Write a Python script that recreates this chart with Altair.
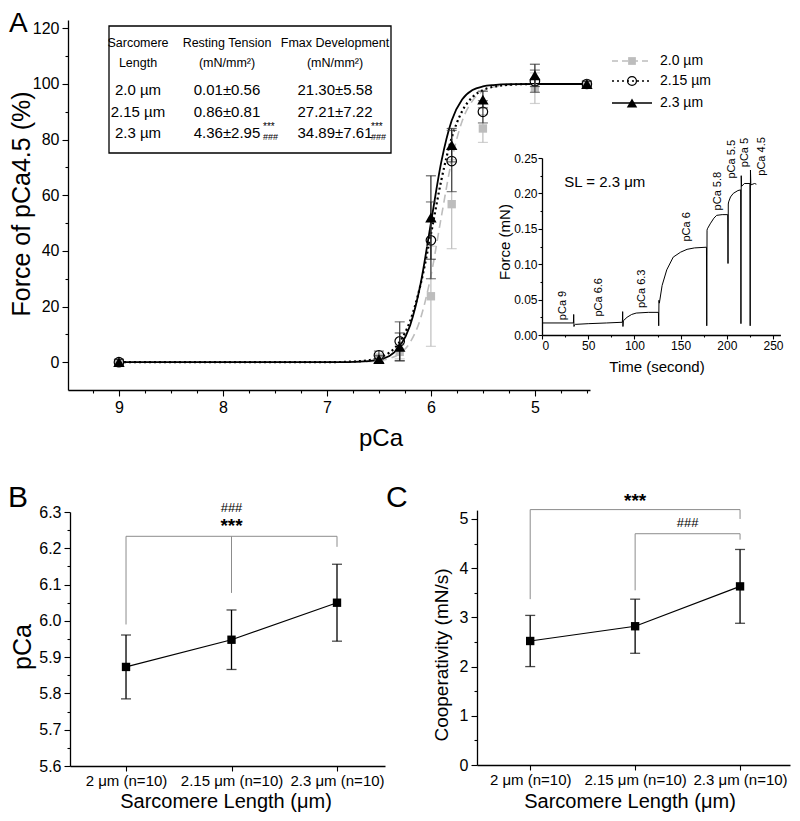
import json
import altair as alt
import pandas as pd

FONT = "Liberation Sans"
W, H = 784, 805
GRAY = "#bdbdbd"
BRK = "#8c8c8c"

# ---------------- Panel A data ----------------
pca_points = [9.0, 6.5, 6.3, 6.0, 5.8, 5.5, 5.0, 4.5]
force_20 = [0.0, 1.5, 3.7, 23.7, 56.8, 84.0, 98.5, 100.0]
sem_20 = [1.0, 1.5, 2.5, 18.0, 16.0, 5.0, 5.5, 1.0]
force_215 = [0.0, 2.5, 7.5, 43.8, 72.3, 90.0, 101.0, 100.0]
sem_215 = [1.0, 1.5, 7.0, 13.8, 11.0, 4.0, 4.0, 1.0]
force_23 = [0.0, 1.1, 5.5, 52.0, 78.0, 94.4, 103.1, 100.0]
sem_23 = [1.0, 1.2, 5.0, 15.0, 6.0, 3.0, 4.0, 1.0]
series_names = ["2.0 µm", "2.15 µm", "2.3 µm"]

fit_pca = [9.0, 7.0, 6.8, 6.6, 6.5, 6.4, 6.3, 6.2, 6.1, 6.0, 5.9, 5.8, 5.7, 5.6, 5.5, 5.4, 5.2, 5.0, 4.8, 4.5]
fit_20 = [0, 0, 0.04, 0.22, 0.53, 1.3, 3.1, 7.1, 15.7, 31.0, 52.2, 72.6, 86.6, 94.0, 97.4, 98.9, 99.8, 100, 100, 100]
fit_215 = [0, 0.01, 0.15, 0.72, 1.6, 3.4, 7.3, 14.8, 27.8, 46.0, 65.4, 80.7, 90.2, 95.3, 97.8, 99.0, 99.8, 100, 100, 100]
fit_23 = [0, 0, 0.05, 0.35, 0.88, 2.2, 5.6, 13.2, 28.0, 50.0, 72.0, 86.9, 94.4, 97.8, 99.1, 99.6, 99.95, 100, 100, 100]

# inset: force trace at SL = 2.3 um
trace_time = [0, 34, 34.3, 34.6, 35, 36, 50, 70, 87, 87.3, 87.6, 88, 92, 97, 102, 115, 126, 126.3, 126.6, 127,
              130, 135, 142, 150, 157, 165, 178, 178.3, 178.6, 179, 182, 186, 189, 195, 201, 201.3, 201.6, 202,
              204, 207, 212, 215, 215.3, 215.6, 216, 219, 225, 225.3, 225.6, 226, 230, 232]
trace_force = [0.017, 0.017, 0.029, 0.012, 0.014, 0.015, 0.016, 0.017, 0.018, 0.033, 0.012, 0.020, 0.025, 0.029,
               0.031, 0.032, 0.032, 0.013, 0.049, 0.045, 0.070, 0.092, 0.110, 0.117, 0.121, 0.123, 0.124, 0.013,
               0.148, 0.150, 0.157, 0.165, 0.169, 0.170, 0.170, 0.101, 0.185, 0.188, 0.195, 0.200, 0.204, 0.205,
               0.016, 0.225, 0.210, 0.214, 0.214, 0.013, 0.233, 0.212, 0.214, 0.213]
step_labels = ["pCa 9", "pCa 6.6", "pCa 6.3", "pCa 6", "pCa 5.8", "pCa 5.5", "pCa 5", "pCa 4.5"]
step_label_time = [23, 62, 108.6, 156.5, 190, 206, 219.4, 238]
step_label_force = [0.021, 0.026, 0.038, 0.132, 0.176, 0.221, 0.237, 0.225]

# table
tab_head1 = ["Sarcomere", "Resting Tension", "Fmax Development"]
tab_head2 = ["Length", "(mN/mm²)", "(mN/mm²)"]
tab_sl = ["2.0 µm", "2.15 µm", "2.3 µm"]
tab_rest = ["0.01±0.56", "0.86±0.81", "4.36±2.95"]
tab_fmax = ["21.30±5.58", "27.21±7.22", "34.89±7.61"]

# ---------------- Panels B and C ----------------
sl_categories = ["2 μm (n=10)", "2.15 μm (n=10)", "2.3 μm (n=10)"]
pca50_mean = [5.873, 5.948, 6.050]
pca50_sd = [0.088, 0.082, 0.106]
coop_mean = [2.52, 2.82, 3.63]
coop_sd = [0.52, 0.55, 0.75]
brB_top = 6.233
brB_feet = [5.99, 6.077, 6.204]
brC1_top, brC1_feet = 5.19, [3.37, 5.0]
brC2_top, brC2_feet = 4.70, [3.55, 4.58]


def lin(domain, rng):
    return alt.Scale(domain=domain, range=rng, nice=False, zero=False)


def cond_tick(test, minor, major):
    return {"condition": {"test": test, "value": minor}, "value": major}


def txt(text, x, y, size, angle=0, align="center", baseline="middle", weight="normal", color="black"):
    return alt.Chart(pd.DataFrame({"t": [text]})).mark_text(
        fontSize=size, angle=angle, align=align, baseline=baseline, fontWeight=weight,
        color=color, font=FONT).encode(x=alt.value(x), y=alt.value(y), text="t:N")


# ================= Panel A =================
xA_s = lin([9.49, 4.47], [60, 582])
yA_s = lin([-10, 123], [382, 12])
xA_vals = [9.25, 9.0, 8.75, 8.5, 8.25, 8.0, 7.75, 7.5, 7.25, 7.0, 6.75, 6.5, 6.25, 6.0, 5.75, 5.5, 5.25, 5.0, 4.75, 4.5]
axA_x = alt.Axis(orient="bottom", offset=382 - H, title=None, values=xA_vals,
                 labelExpr="datum.value % 1 === 0 ? format(datum.value, 'd') : ''",
                 tickSize=cond_tick("datum.value % 1 !== 0", 3, 6), labelFontSize=16, labelPadding=3)
axA_y = alt.Axis(orient="left", offset=-60, title=None, values=list(range(0, 121, 10)),
                 labelExpr="datum.value % 20 === 0 ? datum.label : ''",
                 tickSize=cond_tick("datum.value % 20 !== 0", 3, 6), labelFontSize=16, labelPadding=3)


def XA(f):
    return alt.X(f, type="quantitative", scale=xA_s, axis=axA_x)


def YA(f):
    return alt.Y(f, type="quantitative", scale=yA_s, axis=axA_y)


fit_df = pd.DataFrame({"pca": fit_pca, "f20": fit_20, "f215": fit_215, "f23": fit_23})
fitbase = alt.Chart(fit_df)
line20 = fitbase.mark_line(color=GRAY, strokeDash=[8, 5], strokeWidth=1.6, interpolate="monotone").encode(
    x=XA("pca"), y=YA("f20"))
line215 = fitbase.mark_line(color="black", strokeDash=[2, 3], strokeWidth=2.2, interpolate="monotone").encode(
    x=XA("pca"), y=YA("f215"))
line23 = fitbase.mark_line(color="black", strokeWidth=1.8, interpolate="monotone").encode(
    x=XA("pca"), y=YA("f23"))


def series_layers(force, sem, color, cap_color, shape, filled, size):
    df = pd.DataFrame({"pca": pca_points, "f": force,
                       "lo": [m - e for m, e in zip(force, sem)],
                       "hi": [m + e for m, e in zip(force, sem)]})
    b = alt.Chart(df)
    return [
        b.mark_rule(color=cap_color, strokeWidth=1.2).encode(x=XA("pca"), y=YA("lo"), y2="hi:Q"),
        b.mark_tick(orient="horizontal", size=10, thickness=1.2, color=cap_color).encode(x=XA("pca"), y=YA("hi")),
        b.mark_tick(orient="horizontal", size=10, thickness=1.2, color=cap_color).encode(x=XA("pca"), y=YA("lo")),
        b.mark_point(shape=shape, filled=filled, size=size, color=color, opacity=1, strokeWidth=1.2).encode(
            x=XA("pca"), y=YA("f")),
    ]


groupA = alt.layer(
    line20, line215, line23,
    *series_layers(force_20, sem_20, GRAY, GRAY, "square", True, 70),
    *series_layers(force_215, sem_215, "black", "#444444", "circle", False, 90),
    *series_layers(force_23, sem_23, "black", "#222222", "triangle-up", True, 130),
)

# ================= Inset =================
xI_s = lin([0, 258], [534, 772.4])
yI_s = lin([0, 0.25], [327, 150])
axI_x = alt.Axis(orient="bottom", offset=327 - H, title=None, values=list(range(0, 251, 25)),
                 labelExpr="datum.value % 50 === 0 ? datum.label : ''",
                 tickSize=cond_tick("datum.value % 50 !== 0", 2, 4), labelFontSize=12, labelPadding=1)
axI_y = alt.Axis(orient="left", offset=-534, title=None,
                 values=[0, 0.025, 0.05, 0.075, 0.1, 0.125, 0.15, 0.175, 0.2, 0.225, 0.25],
                 labelExpr="abs(datum.value*20 - round(datum.value*20)) < 1e-6 ? format(datum.value, '.2f') : ''",
                 tickSize=cond_tick("abs(datum.value*20 - round(datum.value*20)) > 1e-6", 2, 4),
                 labelFontSize=12, labelPadding=1)
trace_df = pd.DataFrame({"t": trace_time, "f": trace_force})
lab_df = pd.DataFrame({"t": step_label_time, "f": step_label_force, "lab": step_labels})
xI = alt.X("t:Q", scale=xI_s, axis=axI_x)
yI = alt.Y("f:Q", scale=yI_s, axis=axI_y)
groupI = alt.layer(
    alt.Chart(trace_df).mark_line(color="black", strokeWidth=1).encode(x=xI, y=yI),
    alt.Chart(lab_df).mark_text(angle=270, align="left", baseline="middle", fontSize=11, font=FONT,
                                color="black").encode(x=xI, y=yI, text="lab:N"),
    alt.Chart(pd.DataFrame({"t": [68], "f": [0.2165], "lab": ["SL = 2.3 μm"]})).mark_text(
        fontSize=15, font=FONT, color="black").encode(x=xI, y=yI, text="lab:N"),
)

# ================= Panels B / C =================
cats_js = json.dumps(sl_categories, ensure_ascii=False)


def cat_panel(x_rng, x_dom, y_dom, y_rng, y_vals, major_test, y_fmt, mean, sd):
    xs = lin(x_dom, x_rng)
    ys = lin(y_dom, y_rng)
    ax_x = alt.Axis(orient="bottom", offset=y_rng[0] - H, title=None, values=[0, 1, 2],
                    labelExpr=cats_js + "[datum.value]", tickSize=5, labelFontSize=15, labelPadding=2)
    ax_y = alt.Axis(orient="left", offset=-x_rng[0], title=None, values=y_vals,
                    labelExpr="(" + major_test + ") ? format(datum.value, '" + y_fmt + "') : ''",
                    tickSize=cond_tick("!(" + major_test + ")", 3, 6), labelFontSize=16, labelPadding=3)
    X = lambda f: alt.X(f, type="quantitative", scale=xs, axis=ax_x)
    Y = lambda f: alt.Y(f, type="quantitative", scale=ys, axis=ax_y)
    df = pd.DataFrame({"i": [0, 1, 2], "m": mean,
                       "lo": [a - b for a, b in zip(mean, sd)], "hi": [a + b for a, b in zip(mean, sd)]})
    b = alt.Chart(df)
    layers = [
        b.mark_rule(color="black", strokeWidth=1.3).encode(x=X("i"), y=Y("lo"), y2="hi:Q"),
        b.mark_tick(orient="horizontal", size=10, thickness=1.3, color="black").encode(x=X("i"), y=Y("hi")),
        b.mark_tick(orient="horizontal", size=10, thickness=1.3, color="black").encode(x=X("i"), y=Y("lo")),
        b.mark_line(color="black", strokeWidth=1.2).encode(x=X("i"), y=Y("m")),
        b.mark_point(shape="square", filled=True, size=70, color="black", opacity=1).encode(x=X("i"), y=Y("m")),
    ]
    return layers, X, Y


b_yvals = [round(5.6 + 0.05 * k, 2) for k in range(15)]
layB, XB, YB = cat_panel([62, 377], [-0.531, 2.455], [5.6, 6.3], [758, 504], b_yvals,
                         "abs(datum.value*10 - round(datum.value*10)) < 1e-6", ".1f",
                         pca50_mean, pca50_sd)
brB_h = pd.DataFrame({"x0": [0], "x1": [2], "y": [brB_top]})
brB_v = pd.DataFrame({"i": [0, 1, 2], "y0": brB_feet, "y1": [brB_top] * 3})
groupB = alt.layer(
    *layB,
    alt.Chart(brB_h).mark_rule(color=BRK, strokeWidth=1).encode(x=XB("x0"), x2="x1:Q", y=YB("y")),
    alt.Chart(brB_v).mark_rule(color=BRK, strokeWidth=1).encode(x=XB("i"), y=YB("y0"), y2="y1:Q"),
    alt.Chart(pd.DataFrame({"i": [1], "y": [6.262], "s": ["***"]})).mark_text(
        font=FONT, fontSize=19, fontWeight="bold", color="black").encode(x=XB("i"), y=YB("y"), text="s:N"),
    alt.Chart(pd.DataFrame({"i": [1], "y": [6.31], "s": ["###"]})).mark_text(
        font=FONT, fontSize=13, color="black").encode(x=XB("i"), y=YB("y"), text="s:N"),
)

c_yvals = [k * 0.5 for k in range(11)]
layC, XC, YC = cat_panel([469, 782], [-0.507, 2.476], [0, 5.18], [757, 502.1], c_yvals,
                         "datum.value % 1 === 0", "d", coop_mean, coop_sd)
brC_h = pd.DataFrame({"x0": [0, 1], "x1": [2, 2], "y": [brC1_top, brC2_top]})
brC_v = pd.DataFrame({"i": [0, 2, 1, 2], "y0": brC1_feet + brC2_feet,
                      "y1": [brC1_top, brC1_top, brC2_top, brC2_top]})
groupC = alt.layer(
    *layC,
    alt.Chart(brC_h).mark_rule(color=BRK, strokeWidth=1).encode(x=XC("x0"), x2="x1:Q", y=YC("y")),
    alt.Chart(brC_v).mark_rule(color=BRK, strokeWidth=1).encode(x=XC("i"), y=YC("y0"), y2="y1:Q"),
    alt.Chart(pd.DataFrame({"i": [1.0], "y": [5.36], "s": ["***"]})).mark_text(
        font=FONT, fontSize=19, fontWeight="bold", color="black").encode(x=XC("i"), y=YC("y"), text="s:N"),
    alt.Chart(pd.DataFrame({"i": [1.5], "y": [4.92], "s": ["###"]})).mark_text(
        font=FONT, fontSize=13, color="black").encode(x=XC("i"), y=YC("y"), text="s:N"),
)

# ================= annotations (titles, table, legend) =================
ann = [
    txt("A", 1, 2, 28, align="left", baseline="top"),
    txt("B", 0, 499, 30, align="left", baseline="alphabetic"),
    txt("C", 378, 499, 30, align="left", baseline="alphabetic"),
    txt("Force of pCa4.5 (%)", 14, 196, 25, angle=270),
    txt("pCa", 373, 431, 24),
    txt("Force (mN)", 497, 234, 15, angle=270),
    txt("Time (second)", 649, 359, 15),
    txt("pCa", 15, 639, 25, angle=270),
    txt("Sarcomere Length (μm)", 218, 794, 20),
    txt("Cooperativity (mN/s)", 434, 647, 19, angle=270),
    txt("Sarcomere Length (μm)", 622, 794, 20),
]

# table box
ann.append(alt.Chart(pd.DataFrame({"a": [0]})).mark_rect(fillOpacity=0, stroke="black", strokeWidth=1.3).encode(
    x=alt.value(101), x2=alt.value(383), y=alt.value(18), y2=alt.value(145)))
col_x = [130, 219, 327]
for j in range(3):
    ann.append(txt(tab_head1[j], col_x[j], 35, 12.5))
    ann.append(txt(tab_head2[j], col_x[j], 55, 12.5))
for r in range(3):
    ann.append(txt(tab_sl[r], col_x[0], 82 + 21.5 * r, 15))
    ann.append(txt(tab_rest[r], col_x[1], 82 + 21.5 * r, 15))
    ann.append(txt(tab_fmax[r], col_x[2], 82 + 21.5 * r, 15))
for xx in [255, 363]:
    ann.append(txt("***", xx, 119, 10, align="left"))
    ann.append(txt("###", xx, 128.5, 9, align="left"))

# legend
leg_y = [53, 73, 95]
leg_styles = [
    dict(color=GRAY, dash=[6, 4], shape="square", filled=True, size=60),
    dict(color="black", dash=[2, 3], shape="circle", filled=False, size=80),
    dict(color="black", dash=[1, 0], shape="triangle-up", filled=True, size=110),
]
one = pd.DataFrame({"a": [0]})
for k in range(3):
    st = leg_styles[k]
    ann.append(alt.Chart(one).mark_rule(color=st["color"], strokeDash=st["dash"], strokeWidth=1.6).encode(
        x=alt.value(604), x2=alt.value(644), y=alt.value(leg_y[k])))
    ann.append(alt.Chart(one).mark_point(shape=st["shape"], filled=st["filled"], size=st["size"],
                                         color=st["color"], opacity=1, strokeWidth=1.2).encode(
        x=alt.value(624), y=alt.value(leg_y[k])))
    ann.append(txt(series_names[k], 652, leg_y[k], 14, align="left"))

chart = alt.layer(groupA, groupI, groupB, groupC, *ann).resolve_scale(
    x="independent", y="independent").properties(
    width=W, height=H, autosize=alt.AutoSizeParams(type="none"), padding=0
).configure_view(stroke=None).configure_axis(
    labelFont=FONT, labelColor="black", domainColor="black", tickColor="black", grid=False,
    domainWidth=1.3, tickWidth=1.1
).configure_text(font=FONT)

chart.save("out.html", embed_options={"renderer": "svg", "actions": False})
